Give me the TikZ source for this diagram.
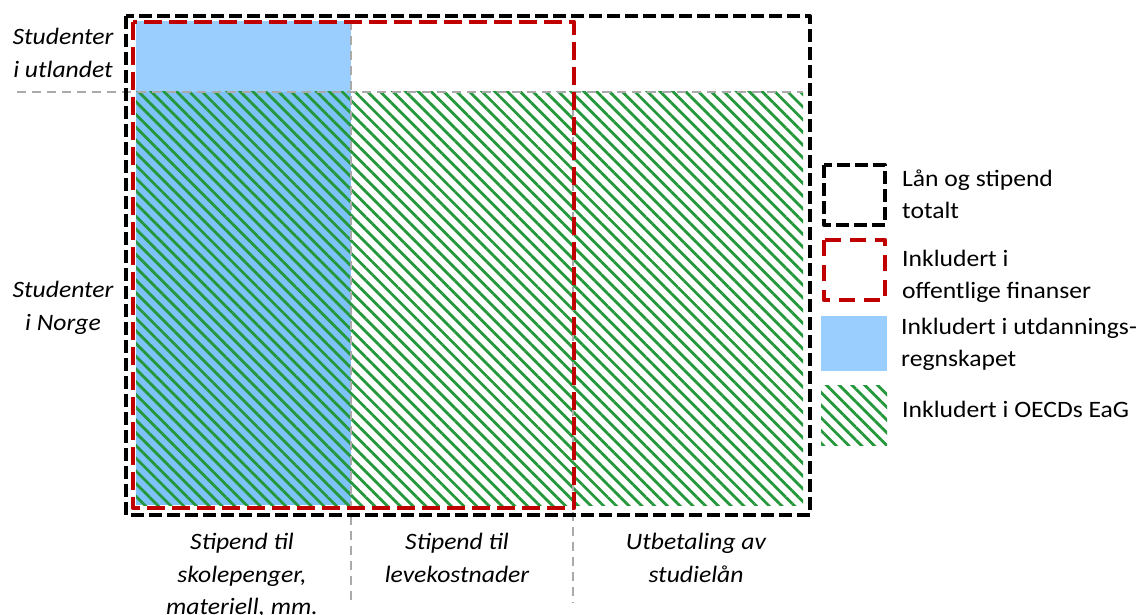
\documentclass[tikz,border=0pt]{standalone}
\usepackage{fontspec}
\setmainfont{Carlito}[FakeStretch=1.09]
\usetikzlibrary{patterns.meta}

\definecolor{boxred}{RGB}{192,0,0}
\definecolor{regnblue}{RGB}{153,206,255}
\definecolor{regnbluelow}{RGB}{125,194,248}
\definecolor{oecdgreen}{RGB}{36,152,58}
\definecolor{skillegrey}{RGB}{170,170,170}

\begin{document}
\begin{tikzpicture}[x=1pt,y=-1pt,
  total/.style={draw=black, line width=4pt, line join=round, dash pattern=on 13pt off 5pt},
  offentlig/.style={draw=boxred, line width=4.5pt, line join=round, dash pattern=on 18pt off 7pt},
  eag/.style={pattern={Lines[angle=-45,distance=9pt,line width=2.8pt]}, pattern color=oecdgreen},
  skille/.style={draw=skillegrey, line width=2.5pt, dash pattern=on 9pt off 6pt},
  radtekst/.style={font=\fontsize{23.5}{32.5}\selectfont\itshape, align=center, inner sep=0pt, anchor=north},
  legtekst/.style={font=\fontsize{23.5}{31.5}\selectfont, align=left, anchor=north west, inner sep=0pt}]
  \useasboundingbox (0,0) rectangle (1142,615);

  % felter
  \fill[regnblue] (136,21) rectangle (351,92);
  \fill[regnbluelow] (136,92) rectangle (351,505);
  \fill[eag] (136,92) rectangle (803,505);

  % skillelinjer
  \coordinate (hv) at (17,92);
  \coordinate (hh) at (803,92);
  \coordinate (v1top) at (351,21);
  \coordinate (v1bot) at (351,603);
  \coordinate (v2top) at (573,92);
  \coordinate (v2bot) at (573,603);
  \draw[skille] (hv) -- (hh);
  \draw[skille] (v1top) -- (v1bot);
  \draw[skille] (v2top) -- (v2bot);

  % rammer
  \draw[offentlig] (133,22) rectangle (574,508);
  \draw[total] (126,16) rectangle (810,515);

  % rader
  \node[radtekst] (utland) at (63,28) {Studenter\\i utlandet};
  \node[radtekst] (norge) at (63,281) {Studenter\\i Norge};

  % kolonner
  \node[radtekst] (skole) at (242,533) {Stipend til\\skolepenger,\\materiell, mm.};
  \node[radtekst] (leve) at (457,533) {Stipend til\\levekostnader};
  \node[radtekst] (laan) at (696,533) {Utbetaling av\\studielån};

  % forklaring
  \draw[total] (824,165) rectangle (885,225);
  \draw[offentlig, dash pattern=on 16pt off 9pt] (824,240) rectangle (885,300);
  \fill[regnblue] (821,316) rectangle (887,371);
  \fill[eag] (821,385) rectangle (887,445);
  \node[legtekst] (lt1) at (902,170) {Lån og stipend\\totalt};
  \node[legtekst] (lt2) at (902,250) {Inkludert i\\offentlige finanser};
  \node[legtekst] (lt3) at (901,318) {Inkludert i utdannings-\\regnskapet};
  \node[legtekst] (lt4) at (902,401) {Inkludert i OECDs EaG};
\end{tikzpicture}
\end{document}
